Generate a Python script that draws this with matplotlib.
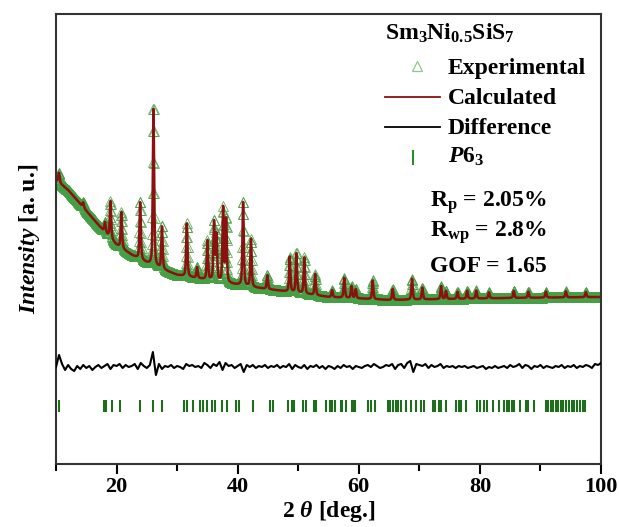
import numpy as np
import matplotlib.pyplot as plt
from matplotlib.ticker import MultipleLocator

plt.rcParams['font.family'] = 'Liberation Serif'
plt.rcParams['font.weight'] = 'bold'
plt.rcParams['axes.labelweight'] = 'bold'
plt.rcParams['mathtext.fontset'] = 'custom'
plt.rcParams['mathtext.rm'] = 'Liberation Serif:bold'
plt.rcParams['mathtext.it'] = 'Liberation Serif:italic:bold'
plt.rcParams['mathtext.bf'] = 'Liberation Serif:bold'
plt.rcParams['mathtext.default'] = 'rm'

# background level (a.u.) at a few 2theta points
bg_2theta = [10, 12, 14.6, 17, 20, 22.5, 25.6, 30, 36, 42, 50, 55, 65, 75, 85, 100]
bg_level = [284, 274, 256, 239, 219, 209, 199, 189, 183, 177, 171, 167, 164, 165, 166, 167]

# reflections seen in the pattern: position (deg) and net height (a.u.)
peak_pos = [10.5, 14.5, 18.1, 19.0, 20.8, 23.9, 26.1, 27.5, 31.6, 33.3, 35.0,
            36.1, 36.5, 37.6, 38.1, 40.9, 42.2, 44.9, 48.6, 49.7, 51.0, 52.8,
            55.6, 57.6, 58.8, 59.5, 62.3, 65.6, 68.8, 70.5, 73.6, 74.4, 76.3,
            77.9, 79.4, 81.5, 85.6, 88.0, 90.9, 94.2, 97.5]
peak_height = [10, 5, 10, 37, 36, 58, 160, 43, 53, 11, 39,
               59, 46, 74, 64, 85, 48, 14, 35, 40, 36, 21,
               7, 20, 12, 9, 19, 11, 21, 12, 13, 8, 7,
               8, 8, 6, 7, 6, 6, 6, 5]

# obs - calc, every 0.5 deg from 10 to 100
diff_values = [0, 12, 3, -3, 2, -2, -4, 1, -2, 2,
               -1, 1, -3, 0, 2, -1, 1, 3, -2, 2,
               1, 3, -1, 2, 0, 1, 3, -2, 4, 1,
               -1, 2, 15, -8, 3, -2, 1, 0, 2, -1,
               1, 0, -2, 3, 1, 2, 0, 1, -1, 4,
               2, -1, 3, 1, 5, -3, 4, 1, 2, -1,
               1, 3, -5, 2, 0, 2, -1, 1, 0, 2,
               -1, 1, 0, 2, -1, 1, 0, 3, -2, 2,
               0, -1, 2, -2, 1, 0, 2, -1, 1, -2,
               1, 0, -2, 1, -1, 2, 0, 1, -2, 1,
               0, -1, 1, 2, 0, 3, 1, -1, 0, 2,
               1, 3, -2, 2, 3, -1, 4, 6, -5, 3,
               2, 1, 3, -1, 2, 0, 1, 3, -1, 1,
               0, 1, -1, 1, 0, 1, -1, 0, 1, -1,
               0, 1, -2, 0, -1, 1, -1, 0, 1, -1,
               2, 0, 1, 3, -1, 2, 1, -2, 1, 0,
               2, -1, 1, 0, -1, 1, 0, 2, -1, 1,
               0, 2, -1, 1, 0, 2, 1, -1, 3, 2,
               4]
diff_2theta = np.arange(len(diff_values)) * 0.5 + 10
diff_offset = 97

# Bragg positions for P6_3
bragg_pos = [10.5, 17.9, 18.3, 19.2, 20.6, 23.9, 26.0, 27.5, 31.2, 31.6, 32.7,
             33.8, 34.3, 34.9, 35.7, 36.3, 37.4, 38.2, 39.8, 40.3, 42.6, 45.3,
             45.9, 48.3, 48.9, 49.3, 50.8, 51.3, 52.6, 53.0, 54.6, 55.2, 55.6,
             56.0, 57.0, 57.3, 57.9, 58.8, 59.0, 59.3, 61.5, 62.0, 62.6, 64.8,
             65.2, 65.6, 66.1, 66.4, 66.9, 67.8, 68.6, 69.5, 70.3, 70.7, 72.2,
             72.6, 73.2, 73.6, 74.4, 76.0, 76.5, 76.9, 77.7, 79.6, 80.0, 80.7,
             81.1, 82.1, 83.1, 84.0, 84.4, 84.8, 85.3, 85.6, 86.7, 87.6, 88.0,
             88.9, 90.9, 91.3, 91.7, 92.1, 92.5, 92.9, 93.4, 93.8, 94.3, 94.7,
             95.2, 95.6, 96.1, 96.5, 97.0, 97.4]

# pseudo-Voigt profile on the measurement grid
tt = np.arange(10, 100.001, 0.04)
fwhm, eta = 0.26, 0.5
calc = np.interp(tt, bg_2theta, bg_level)
for p, h in zip(peak_pos, peak_height):
    u = (tt - p) / fwhm
    calc += h * (eta / (1 + 4 * u**2) + (1 - eta) * np.exp(-4 * np.log(2) * u**2))

fig = plt.figure(figsize=(6.19, 5.27), dpi=100)
ax = fig.add_axes([56 / 619, 63 / 527, 545 / 619, 450 / 527])

ax.plot(tt, calc, ls='none', marker='^', ms=7, mfc='none', mec='#45a045', mew=0.6,
        alpha=0.85, zorder=1)
ax.plot(tt, calc, color='#8b1010', lw=1.8, zorder=2)
ax.plot(diff_2theta, np.array(diff_values) + diff_offset, color='black', lw=1.5, zorder=3)
ax.vlines(bragg_pos, 52, 64, color='#1e6e1e', lw=1.5, zorder=3)

ax.set_xlim(10, 100)
ax.set_ylim(0, 450)
ax.set_yticks([])
ax.xaxis.set_major_locator(MultipleLocator(20))
ax.xaxis.set_minor_locator(MultipleLocator(10))
ax.tick_params(axis='x', which='major', direction='out', length=7, width=1.5, labelsize=16, pad=2)
ax.tick_params(axis='x', which='minor', direction='out', length=5, width=1.5)
for s in ax.spines.values():
    s.set_linewidth(1.5)
    s.set_color('#333333')

ax.set_xlabel(r'$\mathit{2\ \theta}$ [deg.]', fontsize=17, labelpad=2)
ax.set_ylabel(r'$\mathit{Intensity}$ [a. u.]', fontsize=17, labelpad=10)

# legend block, positions in axes fractions
def fx(px):
    return (px - 56) / 545

def fy(py):
    return (464 - py) / 450

tr = ax.transAxes
fs = 17
ax.text(fx(385), fy(40), r'Sm$_3$Ni$_{0.5}$SiS$_7$', transform=tr, fontsize=fs, va='baseline')
ax.plot([fx(417)], [fy(66)], transform=tr, marker='^', ms=7.5, mfc='none', mec='#8fc58f', mew=0.9)
ax.text(fx(448), fy(74), 'Experimental', transform=tr, fontsize=fs, va='baseline')
ax.plot([fx(385), fx(440)], [fy(97), fy(97)], transform=tr, color='#8b1010', lw=1.3)
ax.text(fx(448), fy(104), 'Calculated', transform=tr, fontsize=fs, va='baseline')
ax.plot([fx(385), fx(440)], [fy(127), fy(127)], transform=tr, color='black', lw=1.3)
ax.text(fx(448), fy(134), 'Difference', transform=tr, fontsize=fs, va='baseline')
ax.plot([fx(413), fx(413)], [fy(151), fy(164)], transform=tr, color='#2e8b2e', lw=1.5)
ax.text(fx(448), fy(163), r'$\mathit{P6}_{\mathrm{3}}$', transform=tr, fontsize=fs, va='baseline')
ax.text(fx(430), fy(207), r'R$_\mathrm{p}$ = 2.05%', transform=tr, fontsize=fs, va='baseline')
ax.text(fx(430), fy(237), r'R$_\mathrm{wp}$ = 2.8%', transform=tr, fontsize=fs, va='baseline')
ax.text(fx(430), fy(272), 'GOF = 1.65', transform=tr, fontsize=fs, va='baseline')

fig.savefig('out.png', dpi=100)
